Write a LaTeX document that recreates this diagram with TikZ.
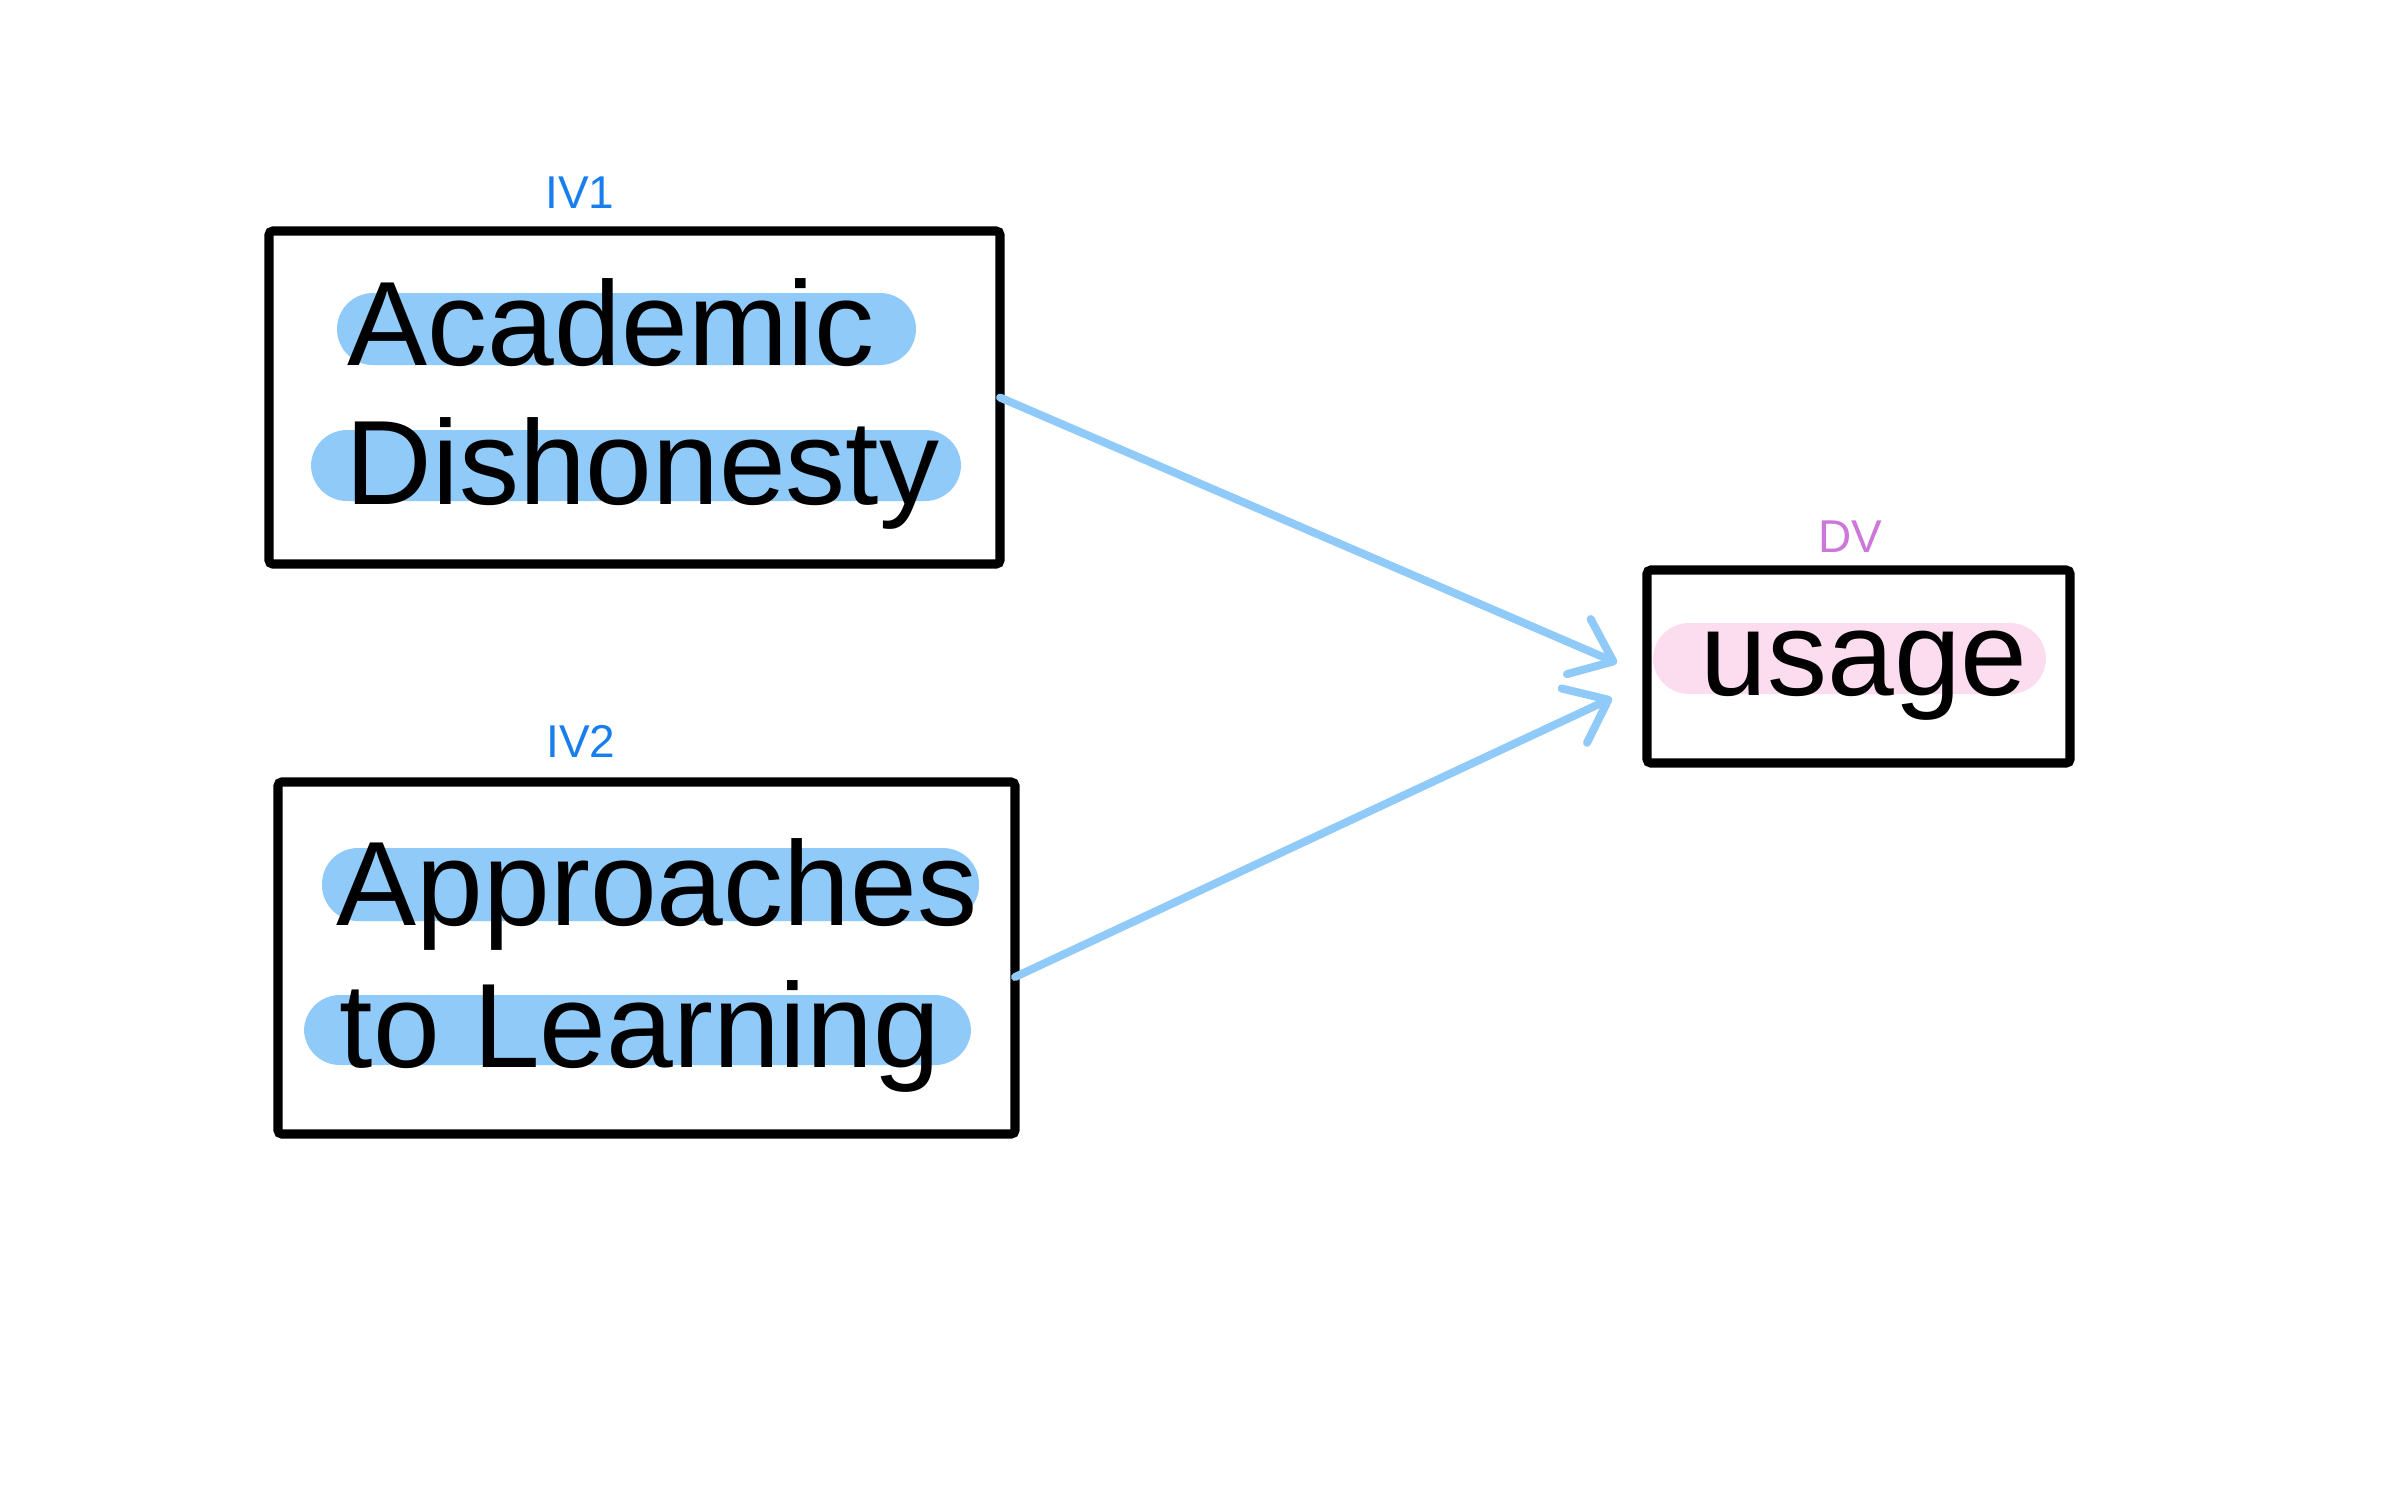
\documentclass[tikz,border=0pt]{standalone}
\usepackage{fontspec}
\setmainfont{Liberation Sans}
\usetikzlibrary{arrows.meta,calc}
\definecolor{hlblue}{RGB}{144,202,249}
\definecolor{hlpink}{RGB}{252,221,240}
\definecolor{ivblue}{RGB}{24,126,238}
\definecolor{dvpurple}{RGB}{204,120,218}
\tikzset{
  varbox/.style={draw=black, line width=2.3pt, rounded corners=1pt, inner sep=0pt, outer sep=0pt},
  bigtext/.style={anchor=base west, inner sep=0pt, font=\fontsize{30}{36}\selectfont},
  ivlabel/.style={anchor=base, inner sep=0pt, text=ivblue, font=\fontsize{11.5}{13}\selectfont},
  dvlabel/.style={anchor=base, inner sep=0pt, text=dvpurple, font=\fontsize{11.5}{13}\selectfont},
  hlb/.style={fill=hlblue, rounded corners=9pt},
  hlp/.style={fill=hlpink, rounded corners=9pt},
  link/.style={draw=hlblue, line width=2pt, line cap=round,
    -{Straight Barb[length=9.4pt,width=15pt,round]}}
}
\begin{document}
\begin{tikzpicture}[x=0.25pt,y=-0.25pt]
\useasboundingbox (0,0) rectangle (2386,1491);
% highlights
\fill[hlb] (337,293) rectangle (916,365);
\fill[hlb] (311,430) rectangle (961,501);
\fill[hlb] (322,848) rectangle (979,921);
\fill[hlb] (304,995) rectangle (971,1065);
\fill[hlp] (1653,623) rectangle (2046,694);
% boxes
\node[varbox, minimum width=182.75pt, minimum height=83.25pt] (iv1) at (634.5,397.5) {};
\node[varbox, minimum width=184.25pt, minimum height=88pt] (iv2) at (646.5,958) {};
\node[varbox, minimum width=105.75pt, minimum height=48.25pt] (dv) at (1858.5,666.5) {};
% texts
\node[bigtext] (t1a) at (347,365) {Academic};
\node[bigtext] (t1b) at (345,504) {Dishonesty};
\node[bigtext] (t2a) at (336,925) {Approaches};
\node[bigtext] (t2b) at (339,1067) {to Learning};
\node[bigtext] (t3) at (1700,695) {usage};
% labels
\node[ivlabel] (l1) at (580,208) {IV1};
\node[ivlabel] (l2) at (581,757) {IV2};
\node[dvlabel] (l3) at (1850,552) {DV};
% connectors
\coordinate (e1) at (1617,663);
\coordinate (e2) at (1612,698);
\draw[link] (iv1.east) -- (e1);
\draw[link] ($(iv2.east)+(0,19)$) -- (e2);
\end{tikzpicture}
\end{document}
